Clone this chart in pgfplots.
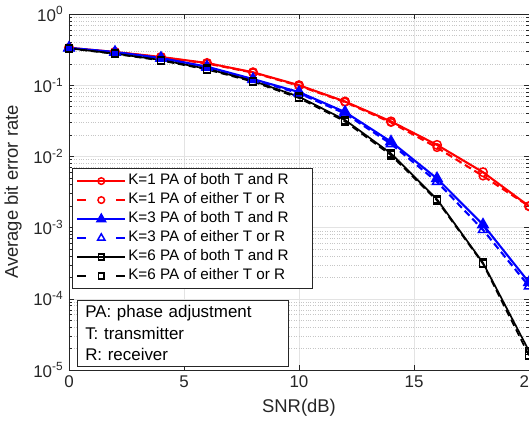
\documentclass[border=0pt]{standalone}
\usepackage{fontspec}
\setmainfont{Liberation Sans}
\usepackage{pgfplots}
\pgfplotsset{compat=1.18}
\usetikzlibrary{calc}
\definecolor{axgray}{gray}{0.15}
\pgfplotsset{
  dashleg/.style={legend image code/.code={\draw[mark repeat=2, mark phase=2, ##1, mark size=#1, dash pattern=on 9bp off 30bp on 9bp] plot coordinates {(0bp,0bp) (24bp,0bp) (48bp,0bp)};}},
  solidleg/.style={legend image code/.code={\draw[mark repeat=2, mark phase=2, ##1, mark size=#1] plot coordinates {(0bp,0bp) (24bp,0bp) (48bp,0bp)};}},
}
\newcommand{\legtxt}[1]{\makebox[178bp][l]{#1}}
\begin{document}
\fontsize{17}{20}\selectfont
\begin{tikzpicture}
\begin{axis}[
  scale only axis,
  width=460bp, height=356bp,
  xmin=0, xmax=20,
  ymode=log, ymin=1e-5, ymax=1,
  xtick={0,5,10,15,20},
  ytick={1e-5,1e-4,1e-3,1e-2,1e-1,1},
  yticklabels={10\textsuperscript{-5},10\textsuperscript{-4},10\textsuperscript{-3},10\textsuperscript{-2},10\textsuperscript{-1},10\textsuperscript{0}},
  /pgf/number format/assume math mode=true,
  tick label style={font=\fontsize{17}{20}\selectfont, text=axgray},
  label style={font=\fontsize{18.5}{22}\selectfont, text=axgray},
  xlabel={SNR(dB)},
  ylabel={Average bit error rate},
  xmajorgrids, ymajorgrids, yminorgrids,
  major grid style={gray!22, line width=0.5pt},
  minor grid style={gray!45, dotted, line width=0.5pt},
  axis line style={axgray, line width=0.6pt},
  tick style={axgray, line width=0.5pt},
  tick align=inside,
  major tick length=5bp, minor tick length=3bp,
  legend cell align=left,
  legend style={at={(rel axis cs:0.0065,0.5665)}, anchor=north west,
    draw=axgray, fill=white, line width=0.5pt,
    font=\fontsize{15.3}{18}\selectfont, row sep=0bp,
    inner xsep=4bp, inner ysep=3bp,
    nodes={font=\fontsize{15.3}{18}\selectfont, inner xsep=2bp, inner ysep=2.25bp, text height=11bp, text depth=3.5bp}},
]
\addplot[red, line width=2.1pt, mark=o, mark size=4.3bp, mark options={solid, line width=1.5pt}, solidleg=3.3bp]
coordinates {(0,0.335) (2,0.293) (4,0.249) (6,0.205) (8,0.152) (10,0.100) (12,0.059) (14,0.031) (16,0.0145) (18,0.0060) (20,0.0020)};
\addlegendentry{\legtxt{K=1 PA of both T and R}}
\addplot[red, line width=2.1pt, dash pattern=on 7bp off 4bp, mark=o, mark size=3.8bp, mark options={solid, line width=1.5pt}, dashleg=3.3bp]
coordinates {(0,0.333) (2,0.291) (4,0.247) (6,0.202) (8,0.150) (10,0.098) (12,0.058) (14,0.030) (16,0.0133) (18,0.0053) (20,0.0020)};
\addlegendentry{\legtxt{K=1 PA of either T or R}}
\addplot[blue, line width=2.1pt, mark=triangle*, mark size=5.3bp, mark options={solid}, solidleg=4.3bp]
coordinates {(0,0.335) (2,0.292) (4,0.241) (6,0.182) (8,0.122) (10,0.080) (12,0.042) (14,0.0161) (16,0.0049) (18,0.00110) (20,0.000170)};
\addlegendentry{\legtxt{K=3 PA of both T and R}}
\addplot[blue, line width=2.1pt, dash pattern=on 7bp off 4bp, mark=triangle, mark size=5.3bp, mark options={solid, line width=1.5pt}, dashleg=4.3bp]
coordinates {(0,0.333) (2,0.289) (4,0.237) (6,0.178) (8,0.119) (10,0.077) (12,0.040) (14,0.0150) (16,0.0044) (18,0.00093) (20,0.000150)};
\addlegendentry{\legtxt{K=3 PA of either T or R}}
\addplot[black, line width=1.7pt, mark=square, mark size=3.6bp, mark options={solid, line width=1.5pt}, solidleg=2.9bp]
coordinates {(0,0.330) (2,0.278) (4,0.226) (6,0.170) (8,0.115) (10,0.069) (12,0.0325) (14,0.0110) (16,0.0025) (18,0.000320) (20,0.0000185)};
\addlegendentry{\legtxt{K=6 PA of both T and R}}
\addplot[black, line width=1.7pt, dash pattern=on 7bp off 4bp, mark=square, mark size=3.6bp, mark options={solid, line width=1.5pt}, dashleg=2.9bp]
coordinates {(0,0.328) (2,0.275) (4,0.222) (6,0.166) (8,0.112) (10,0.066) (12,0.0310) (14,0.0104) (16,0.0024) (18,0.000310) (20,0.0000160)};
\addlegendentry{\legtxt{K=6 PA of either T or R}}
\node[draw=axgray, fill=white, line width=0.5pt, anchor=south west, align=left,
  inner xsep=8bp, inner ysep=5.3bp, text width=195bp,
  font=\fontsize{17}{21.7}\selectfont]
  at (rel axis cs:0.0174,0.01) {PA: phase adjustment\\T: transmitter\\R: receiver};
\end{axis}
\pgfresetboundingbox
\path ($(current axis.south west)+(-69bp,-55bp)$) rectangle ($(current axis.north east)+(0bp,14bp)$);
\end{tikzpicture}
\end{document}
